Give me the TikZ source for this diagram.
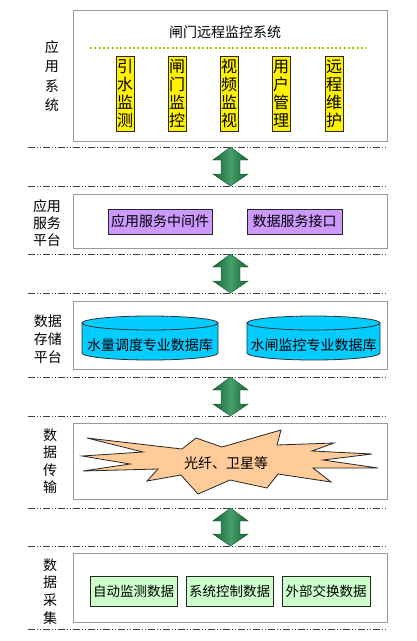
\documentclass[tikz,border=0pt]{standalone}
\usepackage{fontspec}
\setmainfont{Noto Sans CJK SC}
\definecolor{ygreen}{RGB}{153,204,0}
\definecolor{purp}{RGB}{204,153,255}
\definecolor{cyanc}{RGB}{0,204,255}
\definecolor{peach}{RGB}{255,204,153}
\definecolor{lgreen}{RGB}{204,255,204}
\definecolor{adark}{RGB}{24,96,52}
\definecolor{alight}{RGB}{70,160,105}
\newcommand\dblarr[3]{% cx, top, bottom
  \shade[left color=adark,right color=adark,middle color=alight,draw=adark,line width=0.4pt]
  (#1,#2) -- (#1+17.7,#2+13) -- (#1+9.5,#2+13) -- (#1+9.5,#3-12) -- (#1+17.7,#3-12)
  -- (#1,#3) -- (#1-17.7,#3-12) -- (#1-9.5,#3-12) -- (#1-9.5,#2+13) -- (#1-17.7,#2+13) -- cycle;}
\begin{document}
\begin{tikzpicture}[x=1pt,y=-1pt,
  layer/.style={draw=black!40,line width=1pt,fill=white,anchor=north west,inner sep=0pt,outer sep=0pt},
  sep/.style={draw=black!75,line width=0.9pt,dash pattern=on 7pt off 2pt on 1pt off 2pt on 1pt off 2pt},
  lbl/.style={align=center,inner sep=0pt,font=\fontsize{14}{17.5}\selectfont},
  ybox/.style={draw=black!85,fill=yellow,line width=0.8pt,inner sep=0pt,minimum width=18pt,minimum height=75pt,align=center,font=\fontsize{16}{18}\selectfont},
  pbox/.style={draw=black!85,fill=purp,line width=0.8pt,inner sep=0pt,minimum height=25pt,font=\fontsize{14}{16}\selectfont},
  gbox/.style={draw=black!85,fill=lgreen,line width=0.8pt,inner sep=0pt,minimum height=30pt,font=\fontsize{13.5}{16}\selectfont},
  cyl/.style={draw=black!80,fill=cyanc,line width=0.8pt},
  txt/.style={inner sep=0pt,font=\fontsize{14}{16}\selectfont}]
\useasboundingbox (0,0) rectangle (416,641);
\fill[white] (0,0) rectangle (416,641);

% layer boxes
\node[layer,minimum width=314pt,minimum height=131pt] (L1) at (73,10) {};
\node[layer,minimum width=314pt,minimum height=54pt] (L2) at (73,194) {};
\node[layer,minimum width=314pt,minimum height=68pt] (L3) at (73,301) {};
\node[layer,minimum width=314pt,minimum height=76pt] (L4) at (73,423) {};
\node[layer,minimum width=314pt,minimum height=69pt] (L5) at (73,553) {};

% separators
\foreach \yy in {147,186,254,293,377,416,508,546,629}
  \draw[sep] (28,\yy) -- (387,\yy);

% arrows
\dblarr{230.5}{147}{186}
\dblarr{230.5}{254}{293}
\dblarr{230.5}{377}{416}
\dblarr{230.5}{508}{546}

% left labels
\node[lbl,font=\fontsize{14}{19.5}\selectfont] (T1) at (52,76) {应\\用\\系\\统};
\node[lbl,font=\fontsize{14}{17}\selectfont] (T2) at (47,223) {应用\\服务\\平台};
\node[lbl,font=\fontsize{14}{18}\selectfont] (T3) at (48,339) {数据\\存储\\平台};
\node[lbl] (T4) at (50,461) {数\\据\\传\\输};
\node[lbl,font=\fontsize{14}{17.7}\selectfont] (T5) at (50,591.5) {数\\据\\采\\集};

% layer 1
\node[txt] (title) at (225,32) {闸门远程监控系统};
\draw[ygreen,line width=2pt,dash pattern=on 2pt off 2.3pt] (90,48) -- (366,48);
\node[ybox] (Y1) at (125,93.5) {引\\水\\监\\测};
\node[ybox] (Y2) at (177,93.5) {闸\\门\\监\\控};
\node[ybox] (Y3) at (229,93.5) {视\\频\\监\\视};
\node[ybox] (Y4) at (281,93.5) {用\\户\\管\\理};
\node[ybox] (Y5) at (334,93.5) {远\\程\\维\\护};

% layer 2
\node[pbox,minimum width=104pt] (P1) at (160,221.5) {应用服务中间件};
\node[pbox,minimum width=95pt] (P2) at (294.5,221.5) {数据服务接口};

% layer 3 cylinders
\draw[cyl] (82,323) -- (82,353) arc[start angle=180,end angle=0,x radius=68,y radius=7] -- (218,323) -- cycle;
\draw[cyl] (150,323) ellipse[x radius=68,y radius=7];
\node[txt] (C1) at (150,345) {水量调度专业数据库};
\draw[cyl] (247,323) -- (247,353) arc[start angle=180,end angle=0,x radius=66.5,y radius=7] -- (380,323) -- cycle;
\draw[cyl] (313.5,323) ellipse[x radius=66.5,y radius=7];
\node[txt] (C2) at (313.5,345) {水闸监控专业数据库};

% layer 4 starburst
\draw[fill=peach,draw=black!85,line width=0.8pt,line join=miter]
 (87,438) -- (182,449) -- (196,438) -- (222,447) -- (281,430) -- (277,445) -- (334,443)
 -- (312,451) -- (372,454) -- (323,460) -- (378,468) -- (313,468) -- (331,482)
 -- (278,474) -- (267,488) -- (230,480) -- (198,494) -- (181,475) -- (147,481)
 -- (158,469) -- (83,471) -- (130,464) -- (82,456) -- (143,452) -- cycle;
\node[txt] (S) at (226,463) {光纤、卫星等};

% layer 5
\node[gbox,minimum width=87pt] (G1) at (133.5,591) {自动监测数据};
\node[gbox,minimum width=87pt] (G2) at (229.5,591) {系统控制数据};
\node[gbox,minimum width=88pt] (G3) at (326,591) {外部交换数据};
\end{tikzpicture}
\end{document}
